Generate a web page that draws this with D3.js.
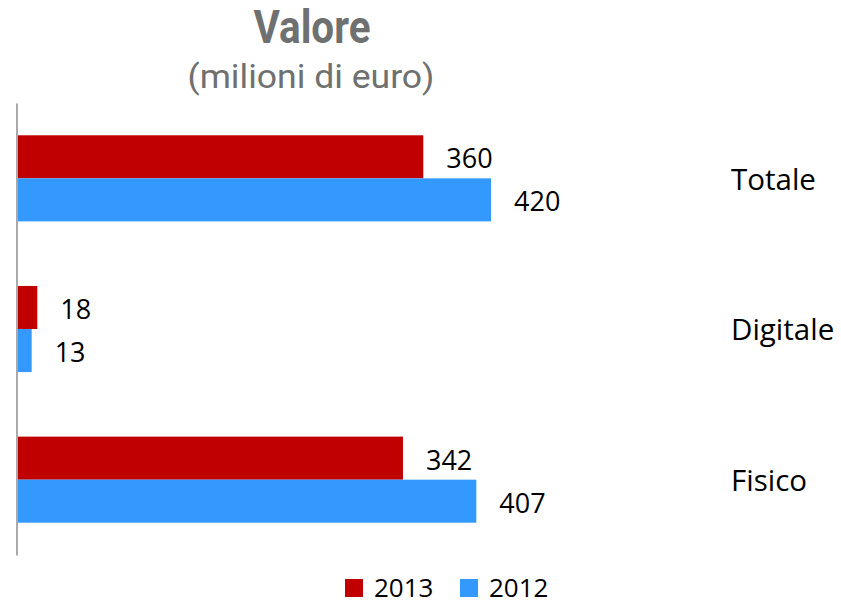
<!DOCTYPE html>
<html lang="it">
<head>
  <meta charset="UTF-8">
  <title>Valore (milioni di euro)</title>
  <script src="https://d3js.org/d3.v7.min.js"></script>
  <style>
    body { margin: 0; background: #fff; }
    text { font-family: "Open Sans", "Liberation Sans", sans-serif; fill: #000; }
    .title { font-family: Roboto, "Open Sans", sans-serif; font-weight: bold; fill: #6f7070; }
    .subtitle { font-family: Roboto, "Open Sans", sans-serif; fill: #6f7070; }
    .axis path { stroke: #8c8c8c; stroke-width: 1.5; }
  </style>
</head>
<body>
<svg width="841" height="605"></svg>

<script>
  // dati
  const categories = ["Totale", "Digitale", "Fisico"];
  const series = ["2013", "2012"];
  const values2013 = [360, 18, 342];
  const values2012 = [420, 13, 407];
  const colors = ["#c00000", "#3399ff"];

  const rows = categories.map((c, i) => ({
    cat: c,
    vals: [values2013[i], values2012[i]]
  }));

  const svg = d3.select("svg");

  // scale
  const y = d3.scaleBand()
          .domain(categories)
          .range([103, 555])
          .padding(0);

  const yInner = d3.scaleBand()
          .domain(series)
          .range([0, y.bandwidth()])
          .paddingInner(0)
          .paddingOuter(0.75);

  const x = d3.scaleLinear()
          .domain([0, 420])
          .range([17, 491]);

  // barre
  const groups = svg.selectAll(".grp")
          .data(rows)
          .enter()
          .append("g")
          .attr("class", "grp")
          .attr("transform", d => `translate(0, ${y(d.cat)})`);

  groups.selectAll("rect")
          .data(d => d.vals.map((v, i) => ({ s: series[i], v: v, i: i })))
          .enter()
          .append("rect")
          .attr("x", x(0) + 1)
          .attr("y", d => yInner(d.s))
          .attr("width", d => x(d.v) - x(0) - 1)
          .attr("height", yInner.bandwidth())
          .attr("fill", d => colors[d.i]);

  // etichette valori
  groups.selectAll(".val")
          .data(d => d.vals.map((v, i) => ({ s: series[i], v: v })))
          .enter()
          .append("text")
          .attr("class", "val")
          .attr("x", d => x(d.v) + 23)
          .attr("y", d => yInner(d.s) + yInner.bandwidth() / 2 + 2)
          .attr("dy", "0.35em")
          .attr("font-size", 27)
          .text(d => d.v);

  // etichette categorie
  svg.selectAll(".cat")
          .data(categories)
          .enter()
          .append("text")
          .attr("class", "cat")
          .attr("x", 731)
          .attr("y", d => y(d) + y.bandwidth() / 2 + 1)
          .attr("dy", "0.35em")
          .attr("font-size", 29.5)
          .text(d => d);

  // asse verticale
  svg.append("g")
          .attr("class", "axis")
          .attr("transform", `translate(${x(0) - 0.5}, 0)`)
          .call(d3.axisLeft(y).tickValues([]).tickSizeOuter(0));

  // titolo
  svg.append("text")
          .attr("class", "title")
          .attr("x", 312)
          .attr("y", 43)
          .attr("text-anchor", "middle")
          .attr("font-size", 46)
          .attr("textLength", 117)
          .attr("lengthAdjust", "spacingAndGlyphs")
          .text("Valore");

  svg.append("text")
          .attr("class", "subtitle")
          .attr("x", 311)
          .attr("y", 88)
          .attr("text-anchor", "middle")
          .attr("font-size", 34)
          .attr("textLength", 247)
          .attr("lengthAdjust", "spacingAndGlyphs")
          .text("(milioni di euro)");

  // legenda
  const legX = [345, 460];
  const legend = svg.selectAll(".leg")
          .data(series)
          .enter()
          .append("g")
          .attr("class", "leg")
          .attr("transform", (d, i) => `translate(${legX[i]}, 579)`);

  legend.append("rect")
          .attr("width", 18)
          .attr("height", 18)
          .attr("fill", (d, i) => colors[i]);

  legend.append("text")
          .attr("x", 29)
          .attr("y", 18)
          .attr("font-size", 26)
          .text(d => d);
</script>
</body>
</html>
